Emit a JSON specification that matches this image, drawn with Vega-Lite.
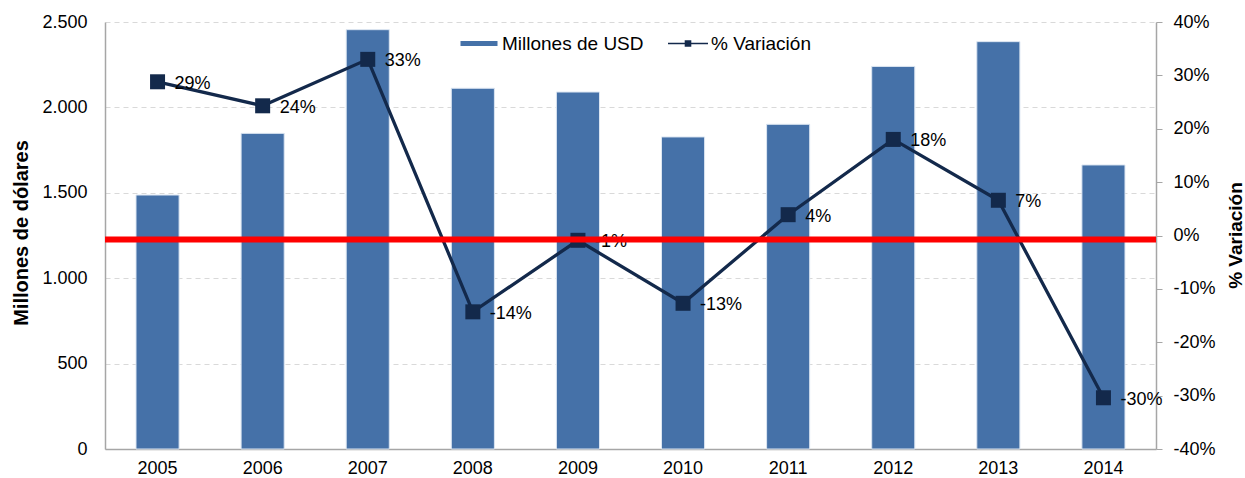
{
  "$schema": "https://vega.github.io/schema/vega-lite/v6.json",
  "width": 1051,
  "height": 427,
  "autosize": {"type": "none"},
  "padding": {"left": 105, "top": 22, "right": 89, "bottom": 29},
  "background": "white",
  "config": {
    "locale": {"number": {"decimal": ",", "thousands": ".", "grouping": [3], "currency": ["$", ""], "minus": "-"}},
    "font": "Liberation Sans",
    "view": {"stroke": null},
    "axis": {
      "labelFont": "Liberation Sans",
      "labelFontSize": 18,
      "labelColor": "#000000",
      "titleFont": "Liberation Sans",
      "titleColor": "#000000",
      "domainColor": "#A6A6A6",
      "domainWidth": 1.5,
      "tickColor": "#A6A6A6"
    },
    "legend": {
      "labelFont": "Liberation Sans",
      "labelFontSize": 19,
      "labelColor": "#000000",
      "padding": 0,
      "labelOffset": 3,
      "symbolSize": 1600
    }
  },
  "datasets": {
    "main": [
      {"anio": "2005", "usd": 1487, "pct": 0.288},
      {"anio": "2006", "usd": 1848, "pct": 0.243},
      {"anio": "2007", "usd": 2455, "pct": 0.330},
      {"anio": "2008", "usd": 2112, "pct": -0.143},
      {"anio": "2009", "usd": 2090, "pct": -0.009},
      {"anio": "2010", "usd": 1827, "pct": -0.127},
      {"anio": "2011", "usd": 1901, "pct": 0.039},
      {"anio": "2012", "usd": 2240, "pct": 0.180},
      {"anio": "2013", "usd": 2385, "pct": 0.066},
      {"anio": "2014", "usd": 1663, "pct": -0.304}
    ],
    "ref": [{"nivel": -0.0075}]
  },
  "layer": [
    {
      "data": {"name": "main"},
      "mark": {"type": "bar", "stroke": "#DCE6F2", "strokeWidth": 1},
      "encoding": {
        "x": {
          "field": "anio", "type": "ordinal",
          "scale": {"paddingInner": 0.59, "paddingOuter": 0.295},
          "axis": {"title": null, "labelAngle": 0, "ticks": false, "labelPadding": 10, "grid": false}
        },
        "y": {
          "field": "usd", "type": "quantitative",
          "scale": {"domain": [0, 2500]},
          "axis": {
            "title": "Millones de dólares", "format": ",d",
            "values": [0, 500, 1000, 1500, 2000, 2500],
            "ticks": false, "labelPadding": 18,
            "grid": true, "gridColor": "#D9D9D9", "gridDash": [5, 4], "gridWidth": 1,
            "titleFontSize": 20, "titleFontWeight": "bold", "titleAngle": 270,
            "titleX": -78, "titleY": 210.5, "titleAlign": "center", "titleBaseline": "alphabetic"
          }
        },
        "fill": {
          "datum": "Millones de USD", "type": "nominal",
          "scale": {"domain": ["Millones de USD"], "range": ["#4571A8"]},
          "legend": {
            "orient": "none", "legendX": 354, "legendY": 1.5, "direction": "horizontal",
            "title": null,
            "symbolType": "M-0.925,-0.12H0.925V0.12H-0.925Z",
            "symbolSize": 1600,
            "symbolStrokeWidth": 0,
            "encode": {"symbols": {"update": {"fill": {"value": "#4571A8"}, "stroke": {"value": "transparent"}, "size": {"value": 1600}, "opacity": {"value": 1}}}}
          }
        }
      }
    },
    {
      "data": {"name": "main"},
      "layer": [
        {
          "mark": {"type": "line", "strokeWidth": 3.3, "point": {"shape": "square", "size": 225, "filled": true, "opacity": 1}},
          "encoding": {
            "x": {"field": "anio", "type": "ordinal"},
            "y": {
              "field": "pct", "type": "quantitative",
              "scale": {"domain": [-0.4, 0.4]},
              "axis": {
                "orient": "right", "title": "% Variación", "format": ".0%",
                "values": [-0.4, -0.3, -0.2, -0.1, 0, 0.1, 0.2, 0.3, 0.4],
                "ticks": true, "tickSize": 6, "labelPadding": 11, "grid": false,
                "titleFontSize": 19, "titleFontWeight": "bold", "titleAngle": 270,
                "titleX": 85.5, "titleY": 213, "titleAlign": "center", "titleBaseline": "alphabetic"
              }
            },
            "color": {
              "datum": "% Variación", "type": "nominal",
              "scale": {"domain": ["% Variación"], "range": ["#13294B"]},
              "legend": {
                "orient": "none", "legendX": 563, "legendY": 1.5, "direction": "horizontal",
                "title": null,
                "symbolType": "M-1,-0.042H1V0.042H-1Z M-0.165,-0.165H0.165V0.165H-0.165Z",
                "symbolSize": 1600,
                "symbolStrokeWidth": 0,
                "symbolFillColor": "#13294B",
                "encode": {"symbols": {"update": {"fill": {"value": "#13294B"}, "stroke": {"value": "transparent"}, "strokeWidth": {"value": 0}, "size": {"value": 1600}, "opacity": {"value": 1}}}}
              }
            }
          }
        },
        {
          "mark": {"type": "text", "align": "left", "baseline": "middle", "dx": 17, "dy": 2, "fontSize": 18, "font": "Liberation Sans", "color": "#000000"},
          "encoding": {
            "x": {"field": "anio", "type": "ordinal"},
            "y": {"field": "pct", "type": "quantitative"},
            "text": {"field": "pct", "type": "quantitative", "format": ".0%"}
          }
        }
      ]
    },
    {
      "data": {"name": "ref"},
      "mark": {"type": "rule", "color": "#FF0000", "strokeWidth": 6},
      "encoding": {
        "y": {"field": "nivel", "type": "quantitative", "scale": {"domain": [-0.4, 0.4]}, "axis": null}
      }
    }
  ],
  "resolve": {"scale": {"y": "independent"}}
}
